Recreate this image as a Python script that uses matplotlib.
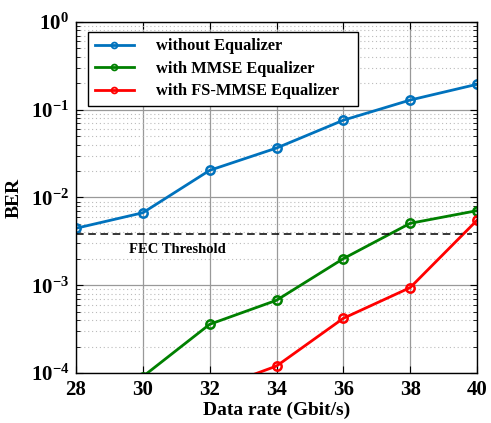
import matplotlib
matplotlib.use("Agg")
import matplotlib.pyplot as plt
from matplotlib.ticker import FixedLocator, LogLocator, NullFormatter, FuncFormatter
import numpy as np

plt.rcParams['font.family'] = ['Liberation Serif', 'DejaVu Serif']
plt.rcParams['font.weight'] = 'bold'
plt.rcParams['mathtext.fontset'] = 'custom'
plt.rcParams['mathtext.rm'] = 'Liberation Serif:bold'
plt.rcParams['mathtext.bf'] = 'Liberation Serif:bold'
plt.rcParams['mathtext.it'] = 'Liberation Serif:bold'

x_rate = [28, 30, 32, 34, 36, 38, 40]
ber_none = [4.46e-3, 6.7e-3, 2.04e-2, 3.66e-2, 7.6e-2, 1.29e-1, 1.95e-1]
x_mmse = [30, 32, 34, 36, 38, 40]
ber_mmse = [9.1e-5, 3.59e-4, 6.74e-4, 2.01e-3, 5.08e-3, 7.08e-3]
x_fs = [32, 34, 36, 38, 40]
ber_fs = [6.3e-5, 1.2e-4, 4.2e-4, 9.4e-4, 5.5e-3]
fec_threshold = 3.8e-3
labels = ['without Equalizer', 'with MMSE Equalizer', 'with FS-MMSE Equalizer']
colors = ['#0072BD', '#008000', '#FF0000']

fig = plt.figure(figsize=(4.91, 4.23), dpi=100)
ax = fig.add_axes([0.1548, 0.1182, 0.8167, 0.8298])

series = [(x_rate, ber_none), (x_mmse, ber_mmse), (x_fs, ber_fs)]
for (xs, ys), lab, c in zip(series, labels, colors):
    ax.plot(xs, ys, '-o', color=c, lw=2, ms=6, mfc='none', mew=1.8,
            label=lab, clip_on=True)

ax.plot([28, 39.85], [fec_threshold, fec_threshold], '--', color='black', lw=1.1,
        dashes=(5, 3))
ax.text(31.02, fec_threshold * 0.8, 'FEC Threshold', ha='center', va='top',
        fontsize=10.5, fontweight='bold')

ax.set_yscale('log')
ax.set_xlim(28, 40)
ax.set_ylim(1e-4, 1)
ax.xaxis.set_major_locator(FixedLocator(x_rate))
ax.yaxis.set_major_locator(LogLocator(base=10, numticks=10))
ax.yaxis.set_minor_locator(LogLocator(base=10, subs=np.arange(2, 10), numticks=20))
ax.yaxis.set_minor_formatter(NullFormatter())
ax.yaxis.set_major_formatter(FuncFormatter(
    lambda v, p: r'$\mathbf{10^{%d}}$' % int(round(np.log10(v)))))

ax.grid(True, which='major', color='#999999', lw=0.9, ls='-')
ax.grid(True, which='minor', axis='y', color='#bbbbbb', lw=0.8, ls=(0, (1, 2.5)))

ax.tick_params(which='both', direction='in', top=True, right=True)
ax.tick_params(which='major', length=5, labelsize=15, pad=5)
ax.tick_params(which='minor', length=3)
for lbl in ax.get_xticklabels():
    lbl.set_fontweight('bold')
for sp in ax.spines.values():
    sp.set_linewidth(1.0)

ax.set_xlabel('Data rate (Gbit/s)', fontsize=14, fontweight='bold', labelpad=1)
ax.set_ylabel('BER', fontsize=14, fontweight='bold', labelpad=6)

leg = ax.legend(loc='upper left', bbox_to_anchor=(0.03, 0.972), borderaxespad=0,
                fontsize=11.8, frameon=True, fancybox=False, edgecolor='black',
                framealpha=1, handlelength=2.4, handletextpad=1.35, borderpad=0.4,
                labelspacing=0.4, markerscale=0.7)
leg.get_frame().set_linewidth(1.0)
for t in leg.get_texts():
    t.set_fontweight('bold')
leg.get_texts()[2].set_text(labels[2] + '   ')
for h in leg.legend_handles:
    h.set_markeredgewidth(1.3)

fig.savefig('out.png', dpi=100)
